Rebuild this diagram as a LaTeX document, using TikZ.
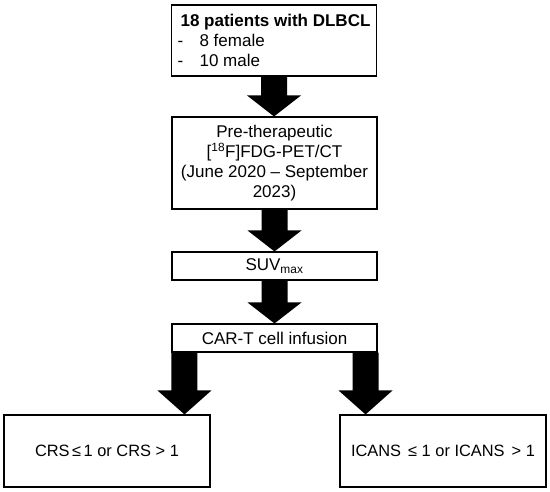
\documentclass[tikz,border=0pt]{standalone}
\usepackage{fontspec}
\setmainfont{Liberation Sans}
\usetikzlibrary{calc}
% thick block arrow from a point down to the top of a box
\newcommand{\blockarrow}[3][21]{%
 \fill let \p1=(#2), \p2=(#3) in
 (\x1-13pt,\y1) -- (\x1+13pt,\y1) -- (\x1+13pt,\y2+#1pt) -- (\x1+27pt,\y2+#1pt)
 -- (\x1,\y2) -- (\x1-27pt,\y2+#1pt) -- (\x1-13pt,\y2+#1pt) -- cycle;}

\begin{document}
\begin{tikzpicture}[x=1pt,y=-1pt,
 stage/.style={draw,line width=1.1pt,inner sep=0pt,align=center,minimum width=205pt,
  font=\fontsize{17pt}{20pt}\selectfont},
 result/.style={stage,minimum width=206pt,minimum height=72pt,
  font=\fontsize{16.4pt}{20pt}\selectfont}]
 \useasboundingbox (0,0) rectangle (550,491);

 \node[stage,minimum height=71pt,align=left] at (274,40.5) (pat)
  {\hspace*{3pt}\textbf{18 patients with DLBCL}\\\makebox[22pt][l]{-}8 female\\\makebox[22pt][l]{-}10 male};
 \node[stage,minimum height=92pt] at (274.5,163) (pet)
  {Pre-therapeutic\\\relax[\textsuperscript{18}F]FDG-PET/CT\\(June 2020 -- September\\2023)};
 \node[stage,minimum height=28pt] at (274.5,266) (suv) {SUV\textsubscript{max}};
 \node[stage,minimum height=28pt] at (274.5,338) (car) {CAR-T cell infusion};

 \node[result] at (107,451) (crs) {CRS\hspace{2.5pt}≤\hspace{2.5pt}1 or CRS > 1};
 \node[result] at (443,451) (icans) {ICANS\hspace{7pt}≤ 1 or ICANS\hspace{7pt}> 1};

 \blockarrow{pat.south}{pet.north}
 \blockarrow{pet.south}{suv.north}
 \blockarrow{suv.south}{car.north}

 \coordinate (l0) at ($(car.south west)+(13,0)$);
 \coordinate (r0) at ($(car.south east)+(-12,0)$);
 \blockarrow[24]{l0}{crs.north}
 \blockarrow[24]{r0}{icans.north}
\end{tikzpicture}
\end{document}
